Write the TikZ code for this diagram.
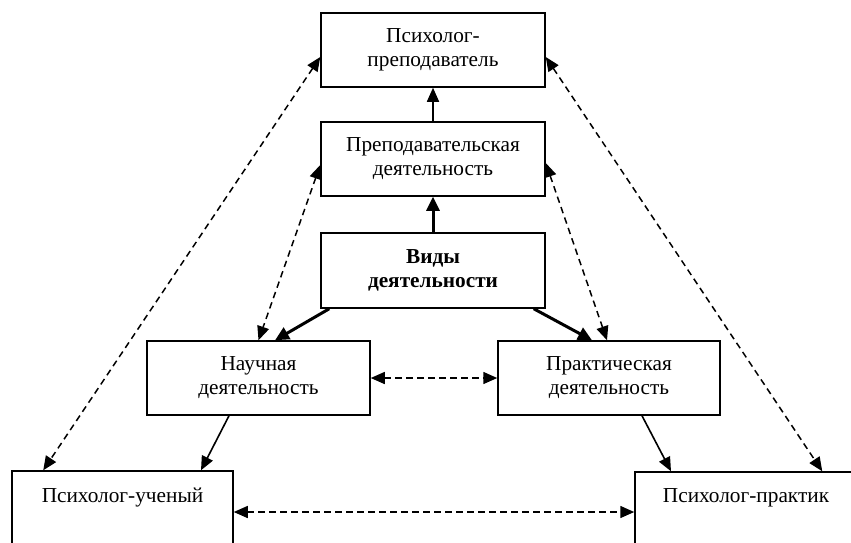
\documentclass[tikz,border=0pt]{standalone}
\usepackage{fontspec}
\setmainfont{Liberation Serif}
\usetikzlibrary{arrows.meta,calc}
\begin{document}
\begin{tikzpicture}[x=1pt,y=-1pt,
  box/.style={draw,line width=1.5pt,minimum width=224pt,minimum height=74pt,align=center,inner sep=0pt,
    font=\fontsize{21.3}{24}\selectfont},
  txt/.style={anchor=base,inner sep=0pt,font=\fontsize{21.3}{24}\selectfont},
  thinarr/.style={line width=1.6pt,-{Triangle[length=14pt,width=12pt]}},
  thickarr/.style={line width=3pt,-{Triangle[length=14pt,width=13pt]}},
  dasharr/.style={line width=1.5pt,dash pattern=on 6.5pt off 4.5pt,{Triangle[length=14pt,width=12pt]}-{Triangle[length=14pt,width=12pt]}}]
\useasboundingbox (0,0) rectangle (851,542);
\clip (0,0) rectangle (851,542);
\node[box] (pp) at (433,50) {Психолог-\\преподаватель};
\node[box] (pd) at (433,159) {Преподавательская\\деятельность};
\node[box,minimum height=75pt] (vd) at (433,270.5) {\bfseries Виды\\\bfseries деятельности};
\node[box,minimum width=223pt] (nd) at (258.5,378) {Научная\\деятельность};
\node[box,minimum width=222pt] (prd) at (609,378) {Практическая\\деятельность};
\node[box,minimum width=221pt,minimum height=90pt] (uch) at (122.5,516) {};
\node[box,minimum width=222pt,minimum height=90pt] (prk) at (746,517) {};
\node[txt] (uchT) at (122.5,502) {Психолог-ученый};
\node[txt] (prkT) at (746,502) {Психолог-практик};
% solid arrows
\draw[thickarr] (vd.north) -- (pd.south);
\draw[thinarr] (pd.north) -- (pp.south);
\draw[thickarr] ($(vd.south west)+(9,0)$) -- ($(nd.north)+(16.5,0)$);
\draw[thickarr] ($(vd.south east)+(-12,0)$) -- ($(prd.north)+(-17,0)$);
\draw[thinarr] ($(nd.south)+(-29.5,0)$) -- ($(uch.north)+(78.5,0)$);
\draw[thinarr] ($(prd.south)+(33,0)$) -- ($(prk.north)+(-75,0)$);
% dashed arrows
\draw[dasharr] (nd.east) -- (prd.west);
\draw[dasharr] ($(uch.east)+(0,-4)$) -- ($(prk.west)+(0,-5)$);
\draw[dasharr] ($(pd.west)+(0,6)$) -- (nd.north);
\draw[dasharr] ($(pd.east)+(0,4)$) -- ($(prd.north)+(-2,0)$);
\draw[dasharr] ($(pp.west)+(0,7)$) -- ($(uch.north west)+(32,0)$);
\draw[dasharr] ($(pp.east)+(0,7)$) -- ($(prk.north west)+(188,0)$);
\end{tikzpicture}
\end{document}
